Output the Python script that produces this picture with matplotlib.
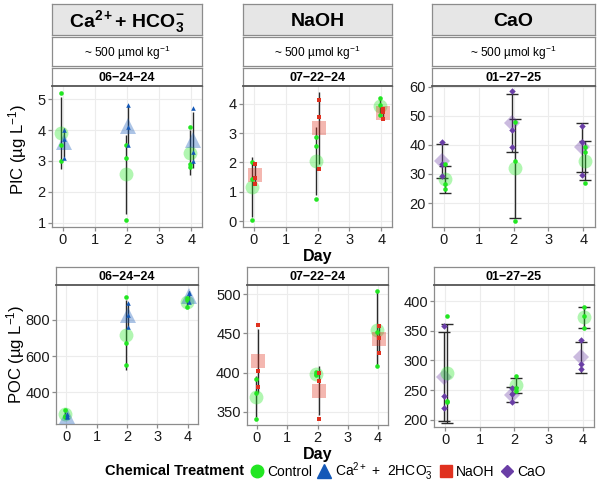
import matplotlib
matplotlib.use("Agg")
import matplotlib.pyplot as plt
from matplotlib.lines import Line2D
import numpy as np

plt.rcParams['font.family'] = ['Liberation Sans', 'DejaVu Sans']
plt.rcParams['mathtext.fontset'] = 'custom'
plt.rcParams['mathtext.rm'] = 'Liberation Sans'
plt.rcParams['mathtext.bf'] = 'Liberation Sans:bold'
plt.rcParams['mathtext.it'] = 'Liberation Sans:italic'

# ---------------- data ----------------
days = [0, 2, 4]
xticks = [0, 1, 2, 3, 4]

treatments = ["Control", "Ca2+ + 2HCO3-", "NaOH", "CaO"]
colors = {"Control": "#22e622", "Ca2+ + 2HCO3-": "#1358b8", "NaOH": "#e0311f", "CaO": "#6a3ea6"}
markers = {"Control": "o", "Ca2+ + 2HCO3-": "^", "NaOH": "s", "CaO": "D"}

column_titles = [r"$\mathbf{Ca^{2+}}$$\mathbf{+\ HCO_3^{-}}$", "NaOH", "CaO"]
dose_label = "~ 500 µmol kg$^{-1}$"
dates = ["06\u221224\u221224", "07\u221222\u221224", "01\u221227\u221225"]

# PIC replicates (rows: day 0, 2, 4)
pic_ctrl_ca = [[5.2, 3.5, 3.0], [3.5, 3.1, 1.1], [4.1, 2.9, 2.8]]
pic_ca = [[4.0, 3.7, 3.1], [4.8, 4.1, 3.5], [4.7, 3.3, 3.0]]
pic_ctrl_naoh = [[2.02, 1.43, 0.03], [2.87, 2.55, 0.74], [4.19, 3.97, 3.61]]
pic_naoh = [[1.93, 1.47, 1.28], [4.14, 3.55, 1.79], [3.83, 3.70, 3.47]]
pic_ctrl_cao = [[33.4, 26.4, 24.8], [47.7, 34.3, 14.0], [39.2, 37.7, 26.9]]
pic_cao = [[40.9, 33.5, 29.2], [58.5, 45.1, 39.2], [46.6, 40.9, 29.8]]

# POC replicates
poc_ctrl_ca = [[301, 270, 266], [928, 672, 552], [918, 873, 910]]
poc_ca = [[278, 268, 264], [891, 829, 758], [950, 898, 948]]
poc_ctrl_naoh = [[392.3, 374.4, 341.2], [400.5, 398.0, 397.5], [504, 452, 408.5]]
poc_naoh = [[460.4, 402.4, 381.9], [399.6, 389.4, 341.2], [460.0, 443.7, 425.4]]
poc_ctrl_cao = [[375, 231, 230], [273, 253, 248], [390, 374, 354.5]]
poc_cao = [[358, 240, 220], [254, 244, 230], [335, 294, 286]]

pic_yticks = [[1, 2, 3, 4, 5], [0, 1, 2, 3, 4], [20, 30, 40, 50, 60]]
poc_yticks = [[400, 600, 800], [350, 400, 450, 500], [200, 250, 300, 350, 400]]

# ---------------- layout ----------------
W, H = 600, 487
fig = plt.figure(figsize=(W / 100, H / 100), dpi=100)


def rect(x0, y0, x1, y1):
    return [x0 / W, 1 - y1 / H, (x1 - x0) / W, (y1 - y0) / H]


def strip(x0, y0, x1, y1, text, fc, size, weight="bold"):
    a = fig.add_axes(rect(x0, y0, x1, y1))
    a.set_facecolor(fc)
    a.set_xticks([]); a.set_yticks([])
    for s in a.spines.values():
        s.set_color("#8c8c8c"); s.set_linewidth(0.9)
    a.text(0.5, 0.45, text, ha="center", va="center", fontsize=size,
           fontweight=weight, transform=a.transAxes)
    return a


top_cols = [(52, 202), (243, 392), (432, 595)]
bot_cols = [(56, 198), (247, 388), (434, 594)]

# column headers
for k, ((x0, x1), title) in enumerate(zip(top_cols, column_titles)):
    strip(x0, 4, x1, 35, title, "#e6e6e6", 14)
    strip(x0, 37, x1, 66, dose_label, "white", 8.6, weight="normal")
    strip(x0, 68, x1, 86, dates[k], "white", 9)

for (x0, x1), d in zip(bot_cols, dates):
    strip(x0, 267, x1, 285, d, "white", 9)

pairs_pic = [(pic_ctrl_ca, pic_ca, "Ca2+ + 2HCO3-"),
             (pic_ctrl_naoh, pic_naoh, "NaOH"),
             (pic_ctrl_cao, pic_cao, "CaO")]
pairs_poc = [(poc_ctrl_ca, poc_ca, "Ca2+ + 2HCO3-"),
             (poc_ctrl_naoh, poc_naoh, "NaOH"),
             (poc_ctrl_cao, poc_cao, "CaO")]

pic_ylims = [(0.87, 5.42), (-0.2, 4.6), (11.8, 60.2)]
poc_ylims = [(225, 992), (333, 512), (188, 427)]

big_size = {"o": 10, "^": 11.5, "s": 9.5, "D": 8}


def draw_panel(ax, ctrl, trt, tname, yticks, ylim, caps):
    # offsets: control left unless CaO
    if tname == "CaO":
        groups = [(trt, tname, -0.045), (ctrl, "Control", 0.045)]
    else:
        groups = [(ctrl, "Control", -0.045), (trt, tname, 0.045)]
    for vals, name, off in groups:
        arr = np.array(vals, dtype=float)
        m = arr.mean(axis=1)
        sd = arr.std(axis=1, ddof=1)
        x = np.array(days) + off
        ax.errorbar(x, m, yerr=sd, fmt="none", ecolor="#2a2a2a", elinewidth=1.0,
                    capsize=4 if caps else 0, capthick=1.0, zorder=2)
        ax.plot(x, m, linestyle="none", marker=markers[name], color=colors[name],
                alpha=0.35, markersize=big_size[markers[name]], markeredgewidth=0, zorder=3)
    for vals, name, off in groups:
        arr = np.array(vals, dtype=float)
        for i, dd in enumerate(days):
            ax.plot(np.full(arr.shape[1], dd + off), arr[i], linestyle="none",
                    marker=markers[name], color=colors[name], markersize=3.3,
                    markeredgewidth=0, zorder=4)
    ax.set_xlim(-0.33, 4.33)
    ax.set_ylim(*ylim)
    ax.set_xticks(xticks)
    ax.set_yticks(yticks)
    ax.grid(True, color="#ececec", linewidth=0.8, zorder=0)
    ax.set_axisbelow(True)
    ax.tick_params(axis="both", labelsize=10.5, color="#8c8c8c", length=3, width=0.9,
                   pad=1.5, labelcolor="#1a1a1a")
    for s in ax.spines.values():
        s.set_color("#8c8c8c"); s.set_linewidth(0.9)
    ax.spines["top"].set_color("#555555"); ax.spines["top"].set_linewidth(1.3)


for k, (x0, x1) in enumerate(top_cols):
    ax = fig.add_axes(rect(x0, 86, x1, 227))
    c, t, n = pairs_pic[k]
    draw_panel(ax, c, t, n, pic_yticks[k], pic_ylims[k], caps=(n == "CaO"))
    if k == 1:
        ax.set_xlabel("Day", fontsize=11.5, fontweight="bold", labelpad=1)

bot_y = [(285, 424), (285, 425), (285, 427)]
for k, (x0, x1) in enumerate(bot_cols):
    ax = fig.add_axes(rect(x0, bot_y[k][0], x1, bot_y[k][1]))
    c, t, n = pairs_poc[k]
    draw_panel(ax, c, t, n, poc_yticks[k], poc_ylims[k], caps=(n == "CaO"))
    if k == 1:
        ax.set_xlabel("Day", fontsize=11.5, fontweight="bold", labelpad=1)

fig.text(18 / W, 1 - 150 / H, "PIC (µg L$^{-1}$)", fontsize=12, rotation=90,
         ha="center", va="center")
fig.text(16 / W, 1 - 354 / H, "POC (µg L$^{-1}$)", fontsize=12, rotation=90,
         ha="center", va="center")

# legend
legend_labels = ["Control", "Ca$^{2+}$ +  2HCO$_3^{-}$", "NaOH", "CaO"]
handles = [Line2D([], [], linestyle="none", marker=markers[t], color=colors[t],
                  markersize={"o": 9, "^": 10, "s": 8.5, "D": 6.5}[markers[t]])
           for t in treatments]
fig.text(105 / W, 1 - 471 / H, "Chemical Treatment", fontsize=10.5, fontweight="bold",
         ha="left", va="center")
fig.legend(handles, legend_labels, loc="center left", bbox_to_anchor=(251 / W, 1 - 472 / H),
           ncol=4, frameon=False, fontsize=10, handletextpad=0.35, columnspacing=0.5,
           handlelength=0.8, borderaxespad=0, borderpad=0)

fig.savefig("out.png", dpi=100)
